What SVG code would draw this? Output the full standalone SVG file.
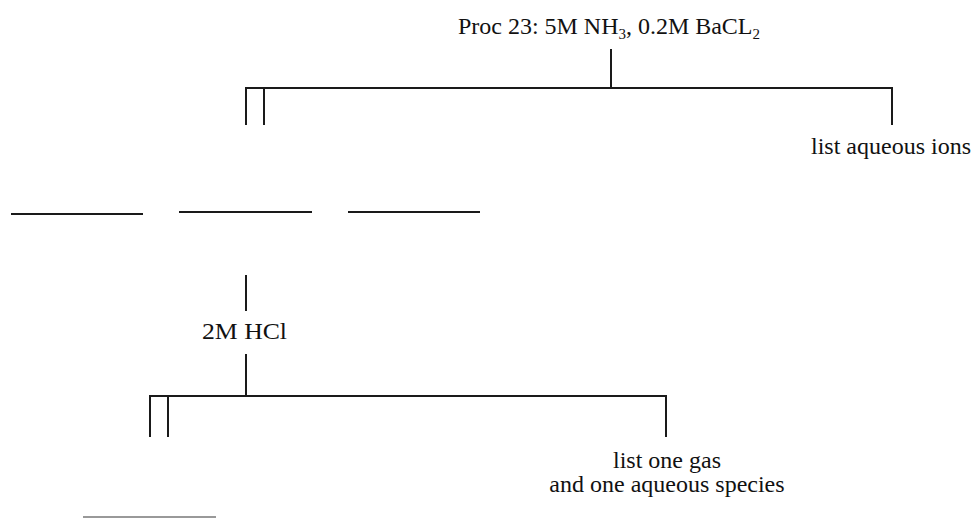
<svg xmlns="http://www.w3.org/2000/svg" width="975" height="518" viewBox="0 0 975 518">
<style>
text{font-family:"Liberation Serif","Times New Roman",serif;font-size:24px;fill:#111}
.sub{font-size:15px}
.ln{stroke:#1a1a1a;stroke-width:2;fill:none}
.blank{stroke:#1a1a1a;stroke-width:2}
</style>
<rect width="975" height="518" fill="#fff"/>
<g id="connectors">
<line class="ln" x1="611" y1="49" x2="611" y2="88"/>
<polyline class="ln" points="246,125 246,88 892,88 892,125"/>
<line class="ln" x1="264" y1="88" x2="264" y2="125"/>
<line class="ln" x1="246" y1="275" x2="246" y2="311"/>
<line class="ln" x1="246" y1="354" x2="246" y2="396"/>
<polyline class="ln" points="150,437 150,396 666,396 666,437"/>
<line class="ln" x1="168" y1="396" x2="168" y2="437"/>
</g>
<g id="proc23">
<text x="458" y="34" textLength="302" lengthAdjust="spacingAndGlyphs">Proc 23: 5M NH<tspan class="sub" dy="5">3</tspan><tspan dy="-5">, 0.2M BaCL</tspan><tspan class="sub" dy="5">2</tspan></text>
</g>
<g id="list-ions">
<text x="811" y="154">list aqueous ions</text>
</g>
<g id="blank1"><line class="blank" x1="11" y1="214" x2="143" y2="214"/></g>
<g id="blank2"><line class="blank" x1="179" y1="212" x2="312" y2="212"/></g>
<g id="blank3"><line class="blank" x1="348" y1="212" x2="480" y2="212"/></g>
<g id="hcl">
<text x="202" y="339" textLength="85" lengthAdjust="spacingAndGlyphs">2M HCl</text>
</g>
<g id="list-gas">
<text x="667" y="468" text-anchor="middle">list one gas</text>
<text x="667" y="492" text-anchor="middle">and one aqueous species</text>
</g>
<g id="blank4"><line x1="83" y1="517" x2="216" y2="517" stroke="#999" stroke-width="2"/></g>
</svg>
